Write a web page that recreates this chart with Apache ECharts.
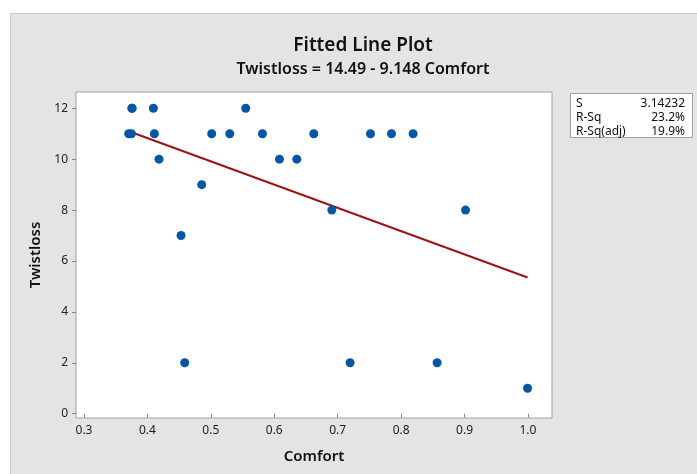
<!DOCTYPE html>
<html>
<head>
<meta charset="utf-8">
<script src="https://cdn.jsdelivr.net/npm/echarts@6/dist/echarts.min.js"></script>
<style>
  html, body { margin: 0; padding: 0; background: #fff; }
  #main { width: 697px; height: 474px; }
</style>
</head>
<body>
<div id="main"></div>
<script>
  const comfort = [0.3705, 0.3747, 0.3757, 0.3757, 0.4094, 0.411, 0.4183, 0.453, 0.4588, 0.4856,
    0.5014, 0.5298, 0.555, 0.5814, 0.6082, 0.6355, 0.6623, 0.6907, 0.7196, 0.7517,
    0.7848, 0.8189, 0.8568, 0.9016, 0.9994];
  const twistloss = [11, 11, 12, 12, 12, 11, 10, 7, 2, 9,
    11, 11, 12, 11, 10, 10, 11, 8, 2, 11,
    11, 11, 2, 8, 1];
  // fitted line ends (Twistloss = 14.49 - 9.148 Comfort)
  const fitX = [0.3705, 0.9994];
  const fitY = [11.10, 5.35];
  const xTicks = [0.3, 0.4, 0.5, 0.6, 0.7, 0.8, 0.9, 1.0];
  const yTicks = [0, 2, 4, 6, 8, 10, 12];
  const statNames = ['S', 'R-Sq', 'R-Sq(adj)'];
  const statValues = ['3.14232', '23.2%', '19.9%'];

  const font = '"Noto Sans", "Open Sans", sans-serif';
  const myChart = echarts.init(document.getElementById('main'));

  const statText = [];
  statNames.forEach((n, i) => {
    statText.push({
      type: 'text', x: 576, y: 104 + i * 14,
      style: { text: n, font: '12px ' + font, fill: '#111', verticalAlign: 'middle' }
    });
    statText.push({
      type: 'text', x: 685, y: 104 + i * 14,
      style: { text: statValues[i], font: '12px ' + font, fill: '#111', textAlign: 'right', verticalAlign: 'middle' }
    });
  });

  myChart.setOption({
    animation: false,
    textStyle: { fontFamily: font },
    graphic: [
      {
        type: 'rect', z: -10, silent: true,
        shape: { x: 10.5, y: 13.5, width: 700, height: 480 },
        style: { fill: '#e4e4e4', stroke: '#c9c9c9', lineWidth: 1 }
      },
      {
        type: 'rect', silent: true,
        shape: { x: 570.5, y: 93.5, width: 122, height: 44 },
        style: { fill: '#fff', stroke: '#a0a0a0', lineWidth: 1 }
      }
    ].concat(statText),
    title: {
      text: 'Fitted Line Plot',
      subtext: 'Twistloss = 14.49 - 9.148 Comfort',
      left: 358,
      top: 31,
      textAlign: 'center',
      itemGap: 6,
      textStyle: { fontSize: 19, fontWeight: 600, color: '#111', fontFamily: font },
      subtextStyle: { fontSize: 16, fontWeight: 600, color: '#111', fontFamily: font }
    },
    grid: {
      left: 76, right: 145, top: 92, bottom: 56,
      show: true, backgroundColor: '#fff', borderColor: '#a0a0a0', borderWidth: 1
    },
    xAxis: {
      type: 'value',
      min: 0.2874, max: 1.0379,
      name: 'Comfort',
      nameLocation: 'middle',
      nameGap: 31,
      nameTextStyle: { fontSize: 15, fontWeight: 600, color: '#111' },
      axisLine: { show: false },
      splitLine: { show: false },
      axisTick: { show: true, length: 4, lineStyle: { color: '#888' }, customValues: xTicks },
      axisLabel: {
        customValues: xTicks, margin: 7, fontSize: 12, color: '#222',
        formatter: v => v.toFixed(1)
      }
    },
    yAxis: {
      type: 'value',
      min: -0.17, max: 12.64,
      name: 'Twistloss',
      nameLocation: 'middle',
      nameGap: 27,
      nameTextStyle: { fontSize: 15, fontWeight: 600, color: '#111' },
      axisLine: { show: false },
      splitLine: { show: false },
      axisTick: { show: true, length: 4, lineStyle: { color: '#888' }, customValues: yTicks },
      axisLabel: { customValues: yTicks, margin: 8, fontSize: 12, color: '#222' }
    },
    series: [
      {
        type: 'line',
        data: fitX.map((x, i) => [x, fitY[i]]),
        showSymbol: false,
        lineStyle: { color: '#9c1414', width: 2 },
        z: 2
      },
      {
        type: 'scatter',
        data: comfort.map((x, i) => [x, twistloss[i]]),
        symbolSize: 9,
        itemStyle: { color: '#0655a6', opacity: 1 },
        z: 3
      }
    ]
  });
</script>
</body>
</html>
